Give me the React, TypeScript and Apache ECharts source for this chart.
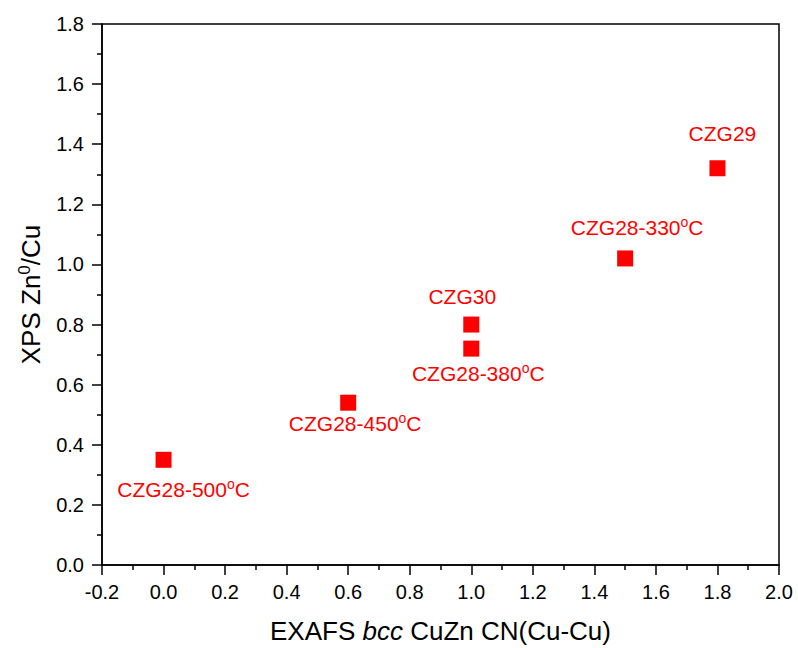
import React, { useEffect, useRef } from "react";
import * as echarts from "echarts";

const sampleNames = ["CZG28-500", "CZG28-450", "CZG30", "CZG28-380", "CZG28-330", "CZG29"];
const cnValues = [0.0, 0.6, 1.0, 1.0, 1.5, 1.8];
const znCuValues = [0.35, 0.54, 0.8, 0.72, 1.02, 1.32];
const hasTemperature = [true, true, false, true, true, false];

const labelOffset: Record<string, number[]> = {
  "CZG28-500": [20, 30],
  "CZG28-450": [7, 21],
  "CZG30": [-9, -28],
  "CZG28-380": [7, 25],
  "CZG28-330": [12, -31],
  "CZG29": [5, -35],
};

export default function App() {
  const ref = useRef<HTMLDivElement>(null);
  useEffect(() => {
    if (!ref.current) return;
    document.body.style.margin = "0";
    const chart = echarts.init(ref.current, null, { renderer: "svg" });
    const font = "Liberation Sans, Arial, sans-serif";
    const data = sampleNames.map((n, i) => ({
      value: [cnValues[i], znCuValues[i]],
      name: n,
      label: {
        position: "inside",
        offset: labelOffset[n],
        formatter: hasTemperature[i] ? `${n}{sup|o}C` : n,
      },
    }));
    const axisCommon = {
      type: "value",
      nameLocation: "middle",
      axisLine: { show: true, onZero: false, lineStyle: { color: "#000", width: 1.5 } },
      axisTick: { show: true, inside: false, length: 10, lineStyle: { color: "#000", width: 1.5 } },
      minorTick: { show: true, splitNumber: 2, length: 5, lineStyle: { color: "#000", width: 1.5 } },
      splitLine: { show: false },
    };
    chart.setOption({
      animation: false,
      grid: {
        left: 102,
        right: 19,
        top: 24,
        bottom: 83,
        outerBoundsMode: "none",
        containLabel: false,
        show: true,
        borderColor: "#000",
        borderWidth: 1.5,
        backgroundColor: "#fff",
      },
      xAxis: {
        ...axisCommon,
        min: -0.2,
        max: 2.0,
        interval: 0.2,
        name: "EXAFS {it|bcc} CuZn CN(Cu-Cu)",
        nameGap: 53,
        nameTextStyle: {
          fontFamily: font,
          fontSize: 26,
          color: "#000",
          rich: { it: { fontStyle: "italic", fontFamily: font, fontSize: 26, color: "#000" } },
        },
        axisLabel: {
          fontFamily: font,
          fontSize: 20,
          color: "#000",
          margin: 17,
          formatter: (v: number) => v.toFixed(1),
        },
      },
      yAxis: {
        ...axisCommon,
        min: 0,
        max: 1.8,
        interval: 0.2,
        name: "XPS Zn{sup|0}/Cu",
        nameGap: 57,
        nameTextStyle: {
          fontFamily: font,
          fontSize: 26,
          color: "#000",
          rich: {
            sup: { fontSize: 17, fontFamily: font, color: "#000", padding: [0, 0, 12, 0] },
          },
        },
        axisLabel: {
          fontFamily: font,
          fontSize: 20,
          color: "#000",
          margin: 18,
          formatter: (v: number) => v.toFixed(1),
        },
      },
      series: [
        {
          type: "scatter",
          symbol: "rect",
          symbolSize: 16,
          itemStyle: { color: "#ff0000", opacity: 1 },
          data,
          label: {
            show: true,
            fontFamily: font,
            fontSize: 21,
            color: "#ff0000",
            rich: {
              sup: { fontSize: 14, fontFamily: font, color: "#ff0000", padding: [0, 0, 11, 0] },
            },
          },
          emphasis: { disabled: true },
        },
      ],
    });
    return () => chart.dispose();
  }, []);
  return <div ref={ref} style={{ width: 798, height: 648 }} />;
}
